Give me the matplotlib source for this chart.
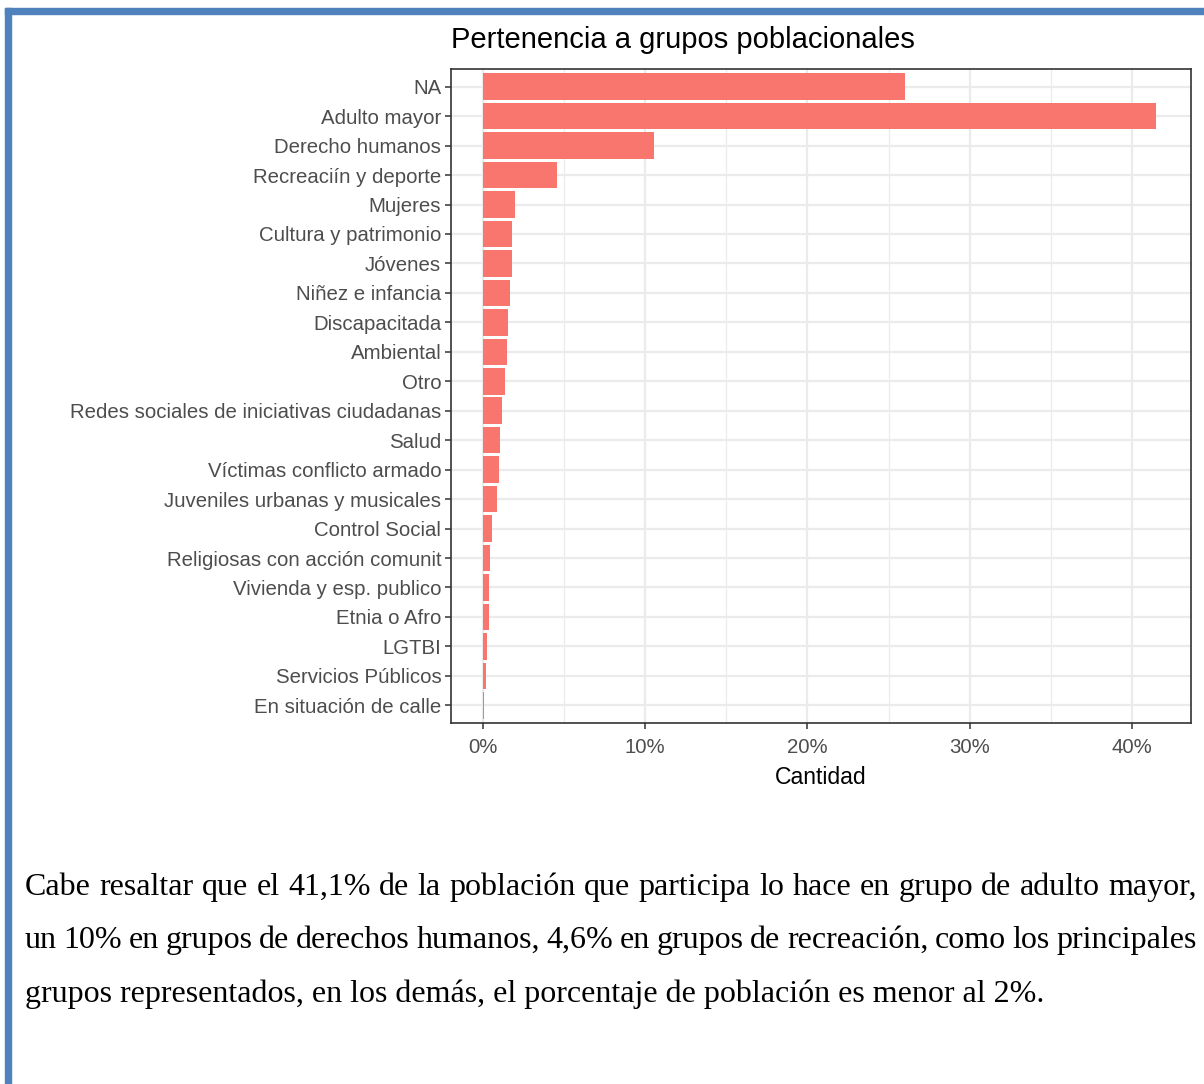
import matplotlib
matplotlib.use("Agg")
import matplotlib.pyplot as plt
from matplotlib.patches import Rectangle
from matplotlib.ticker import MultipleLocator, FuncFormatter

# data
grupos = ["NA", "Adulto mayor", "Derecho humanos", "Recreaciín y deporte", "Mujeres",
          "Cultura y patrimonio", "Jóvenes", "Niñez e infancia", "Discapacitada",
          "Ambiental", "Otro", "Redes sociales de iniciativas ciudadanas", "Salud",
          "Víctimas conflicto armado", "Juveniles urbanas y musicales", "Control Social",
          "Religiosas con acción comunit", "Vivienda y esp. publico", "Etnia o Afro",
          "LGTBI", "Servicios Públicos", "En situación de calle"]
porcentaje = [26.0, 41.47, 10.55, 4.58, 1.95, 1.77, 1.77, 1.66, 1.56, 1.46, 1.36,
              1.17, 1.07, 0.97, 0.86, 0.57, 0.45, 0.37, 0.37, 0.27, 0.17, 0.08]
ticks_x = [0, 10, 20, 30, 40]

parrafo = [
    "Cabe resaltar que el 41,1% de la población que participa lo hace en grupo de adulto mayor,",
    "un 10% en grupos de derechos humanos, 4,6% en grupos de recreación, como los principales",
    "grupos representados, en los demás, el porcentaje de población es menor al 2%.",
]

W, H = 1204, 1084
fig = plt.figure(figsize=(W / 100, H / 100), dpi=100)
fig.patch.set_facecolor("white")

# marco azul
blue = "#4F81BD"
fig.patches.append(Rectangle((5 / W, 1 - 14 / H), 1 - 5 / W, 6 / H, transform=fig.transFigure,
                             color=blue, zorder=0))
fig.patches.append(Rectangle((5 / W, 0), 6 / W, 1 - 8 / H, transform=fig.transFigure,
                             color=blue, zorder=0))

left, right, top, bottom = 451, 1191, 69, 723
ax = fig.add_axes([left / W, 1 - bottom / H, (right - left) / W, (bottom - top) / H])

n = len(grupos)
ypos = list(range(n))
ax.barh(ypos, porcentaje, height=0.9, color="#F8766D", zorder=3)
ax.set_ylim(n - 0.4, -0.6)
ax.set_xlim(-1.97, 43.64)
ax.set_yticks(ypos)
ax.set_yticklabels(grupos)
ax.set_xticks(ticks_x)
ax.xaxis.set_major_formatter(FuncFormatter(lambda v, p: f"{v:.0f}%"))
ax.xaxis.set_minor_locator(MultipleLocator(5))

ax.grid(True, which="major", color="#EBEBEB", linewidth=1.6, zorder=0)
ax.grid(True, which="minor", axis="x", color="#EBEBEB", linewidth=0.9, zorder=0)
ax.set_axisbelow(True)
for s in ax.spines.values():
    s.set_color("#333333")
    s.set_linewidth(1.2)
ax.tick_params(axis="both", which="major", colors="#333333", length=4, width=1.1,
               labelsize=14.7, labelcolor="#4D4D4D")
ax.tick_params(axis="x", which="minor", length=0)
ax.tick_params(axis="y", pad=3)
ax.tick_params(axis="x", pad=7)
for lab in ax.get_xticklabels() + ax.get_yticklabels():
    lab.set_family("Liberation Sans")

ax.set_xlabel("Cantidad", fontsize=16.6, family="Liberation Sans", color="black", labelpad=6)
fig.text(left / W, 1 - 40 / H, "Pertenencia a grupos poblacionales", fontsize=21,
         family="Liberation Sans", color="black", ha="left", va="center")

# párrafo justificado
fig.canvas.draw()
renderer = fig.canvas.get_renderer()
x0, x1 = 25, 1197
baselines = [895, 948, 1002]
fs = 23
for i, line in enumerate(parrafo):
    yb = 1 - baselines[i] / H
    if i == len(parrafo) - 1:
        fig.text(x0 / W, yb, line, fontsize=fs, family="Liberation Serif",
                 ha="left", va="baseline")
        continue
    words = line.split(" ")
    objs = [fig.text(0, yb, w_, fontsize=fs, family="Liberation Serif",
                     ha="left", va="baseline") for w_ in words]
    widths = [o.get_window_extent(renderer).width for o in objs]
    gap = (x1 - x0 - sum(widths)) / (len(words) - 1)
    x = x0
    for o, wd in zip(objs, widths):
        o.set_x(x / W)
        x += wd + gap

fig.savefig("out.png", dpi=100)
